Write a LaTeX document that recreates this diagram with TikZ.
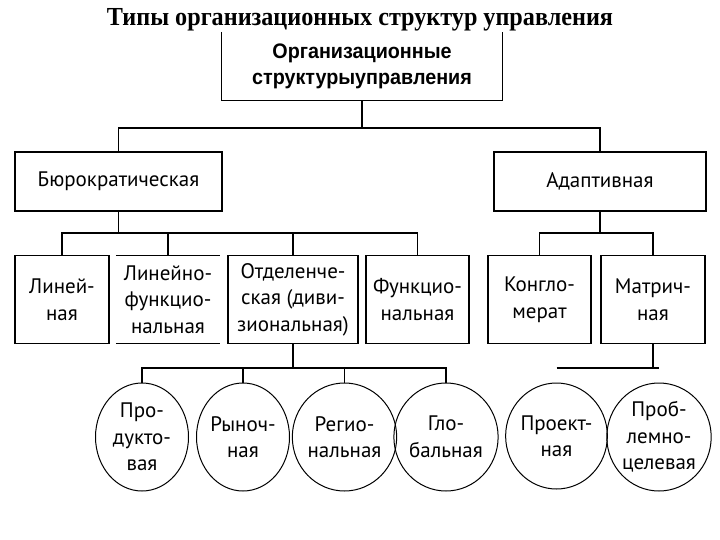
\documentclass[tikz,border=0pt]{standalone}
\usepackage{fontspec}
\setmainfont{PT Sans}
\newfontfamily\titlefont{Liberation Serif}
\newfontfamily\topfont{Liberation Sans}
\usetikzlibrary{shapes.geometric,calc}
\tikzset{
  conn/.style={line width=1.2pt},
  boxfont/.style={font=\fontsize{21}{26.5}\selectfont},
  boxnode/.style={draw,line width=1.2pt,align=center,inner sep=0pt,
     minimum height=88pt,boxfont},
  openbox/.style={align=center,inner sep=0pt,minimum height=88pt,boxfont},
  midbox/.style={draw,line width=1.2pt,align=center,inner sep=0pt,
     minimum height=59pt,boxfont},
  oval/.style={draw,ellipse,line width=1pt,align=center,inner sep=0pt,boxfont},
}
\begin{document}
\begin{tikzpicture}[x=1pt,y=-1pt]
\useasboundingbox (0,0) rectangle (720,540);
% title
\node[font=\titlefont\bfseries\fontsize{26}{30}\selectfont,anchor=base,inner sep=0pt] (title) at (360,26) {\scalebox{0.93}[1]{Типы организационных структур управления}};
% top box (open top, hidden under title)
\node[align=center,inner sep=0pt,minimum width=280pt,minimum height=68pt,
      font=\topfont\bfseries\fontsize{21}{26}\selectfont] (top) at (362,66)
      {\scalebox{0.94}[1]{Организационные}\\\scalebox{0.94}[1]{структурыуправления}};
\draw[line width=1.3pt] (top.north west) -- (top.south west) -- (top.south east) -- (top.north east);
% level 2
\node[midbox,minimum width=207pt] (bur) at (118.5,181.5) {Бюрократическая};
\node[midbox,minimum width=212pt] (ad) at (600,181.5) {Адаптивная};
% level 3
\node[boxnode,minimum width=94pt] (lin) at (62,299.5) {Линей-\\ная};
\node[openbox,minimum width=104pt] (lf) at (168,299.5) {Линейно-\\функцио-\\нальная};
\draw[conn] (lf.north west) -- (lf.north east);
\draw[conn] (lf.south west) -- (lf.south east);
\node[boxnode,minimum width=130pt] (otd) at (293,299.5) {Отделенче-\\ская (диви-\\зиональная)};
\node[boxnode,minimum width=103pt] (fun) at (417.5,299.5) {Функцио-\\нальная};
\node[boxnode,minimum width=103pt] (kon) at (539.5,299.5) {Конгло-\\мерат};
\node[boxnode,minimum width=104pt] (mat) at (653,299.5) {Матрич-\\ная};
% circles
\node[oval,minimum width=93pt,minimum height=108pt] (c1) at (142,437) {Про-\\дукто-\\вая};
\node[oval,minimum width=93pt,minimum height=108pt] (c2) at (243,437) {Рыноч-\\ная};
\node[oval,minimum width=95pt,minimum height=108pt] (c3) at (344.5,437) {Регио-\\нальная};
\node[oval,minimum width=96pt,minimum height=108pt] (c4) at (446,437) {Гло-\\бальная};
\node[oval,minimum width=95pt,minimum height=106pt] (c5) at (556.5,436) {Проект-\\ная};
\node[oval,minimum width=102pt,minimum height=108pt] (c6) at (659,437) {Проб-\\лемно-\\целевая};
% bus coordinates
\coordinate (b1) at (362,128);
\coordinate (b2) at (118.5,233);
\coordinate (b3) at (600,233);
\coordinate (b4) at (293,368);
\coordinate (b5) at (653,368);
% connectors
\draw[conn] (top.south) -- (b1);
\draw[conn] (bur.north) |- (b1) -| (ad.north);
\draw[conn] (bur.south) -- (b2);
\draw[conn] (lin.north) |- (b2) -| (fun.north);
\draw[conn] (lf.north) -- (lf.north |- b2);
\draw[conn] (otd.north) -- (otd.north |- b2);
\draw[conn] (ad.south) -- (b3);
\draw[conn] (kon.north) |- (b3) -| (mat.north);
\draw[conn] (otd.south) -- (b4);
\draw[conn] (c1.north) |- (b4) -| (c4.north);
\draw[conn] (c2.north) -- (c2.north |- b4);
\draw[conn] (c3.north) -- (c3.north |- b4);
\draw[conn] (mat.south) -- (b5);
\draw[conn] (c5.north |- b5) -- (c6.north |- b5);
\end{tikzpicture}
\end{document}
